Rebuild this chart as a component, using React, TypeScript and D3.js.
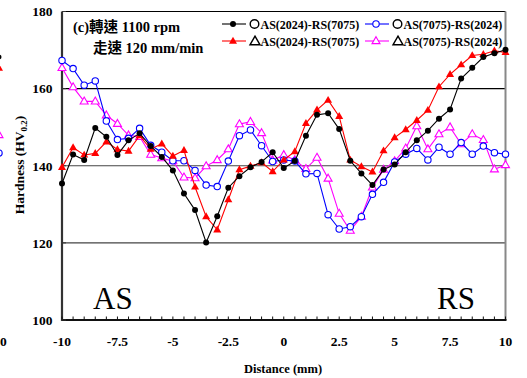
import React from "react";
import * as d3 from "d3";

const distances: number[] = d3.range(-10, 10.001, 0.5).map((v) => +v.toFixed(1));

const as2024Circle: number[] = [
  135.4, 142.9, 141.5, 149.8, 147.5, 142.8, 146.6, 148.4, 145.1, 142.3, 138.8,
  132.8, 128.5, 120.1, 126.9, 134.3, 137.3, 139.6, 141.0, 143.5, 139.4,
  141.2, 147.8, 153.2, 153.6, 149.5, 141.3, 138.0, 135.0, 139.0, 140.3,
  143.5, 146.6, 149.1, 152.2, 154.6, 162.6, 165.4, 168.2, 169.2, 170.1,
];
const as2024Triangle: number[] = [
  139.6, 144.7, 142.8, 143.2, 146.2, 144.2, 143.8, 147.8, 144.3, 145.7, 142.5,
  144.0, 134.5, 126.8, 123.4, 131.2, 139.0, 139.9, 140.8, 138.5, 141.5,
  143.7, 151.0, 154.5, 157.0, 152.8, 141.5, 139.8, 138.4, 143.9, 147.3,
  149.4, 151.8, 154.4, 160.5, 163.7, 166.2, 168.6, 168.9, 169.8, 169.4,
];
const as7075Circle: number[] = [
  167.3, 165.2, 160.9, 162.0, 151.6, 146.8, 147.1, 149.7, 145.3, 143.5, 141.3,
  141.3, 138.8, 135.0, 134.6, 141.2, 147.8, 149.3, 145.2, 141.1, 141.5,
  141.2, 137.9, 138.0, 127.3, 123.6, 124.2, 126.8, 132.6, 135.7, 141.0,
  143.0, 144.5, 141.5, 144.8, 143.0, 146.0, 143.0, 145.1, 143.4, 143.0,
];
const as7075Triangle: number[] = [
  165.4, 160.4, 156.7, 156.7, 153.1, 150.9, 147.9, 147.5, 142.9, 142.0, 141.2,
  137.0, 136.8, 139.9, 141.5, 144.3, 150.8, 151.4, 148.5, 141.4, 142.8,
  141.5, 139.2, 142.1, 136.7, 127.6, 123.2, 126.8, 134.4, 139.0, 141.2,
  144.5, 150.3, 144.3, 148.2, 150.0, 145.6, 148.2, 146.7, 139.1, 140.2,
];

const xTicks: number[] = [-10, -7.5, -5, -2.5, 0, 2.5, 5, 7.5, 10];
const yTicks: number[] = [100, 120, 140, 160, 180];
const gridValues: number[] = [120, 140, 160];
const legendLabels: string[] = ["AS(2024)-RS(7075)", "AS(7075)-RS(2024)", "AS(2024)-RS(7075)", "AS(7075)-RS(2024)"];

type Series = { values: number[]; color: string; marker: "dot" | "tri" | "ocircle" | "otri" };

const series: Series[] = [
  { values: as7075Triangle, color: "#ff00ff", marker: "otri" },
  { values: as7075Circle, color: "#0000ff", marker: "ocircle" },
  { values: as2024Triangle, color: "#ff0000", marker: "tri" },
  { values: as2024Circle, color: "#000000", marker: "dot" },
];

const SERIF = "'Liberation Serif', 'Times New Roman', 'Noto Sans CJK TC', serif";

function triPath(cx: number, cy: number, s: number) {
  const h = s * 0.87;
  return `M${cx},${cy - h * 0.62}L${cx + s / 2},${cy + h * 0.38}L${cx - s / 2},${cy + h * 0.38}Z`;
}

function Marker({ kind, x, y, color }: { kind: Series["marker"]; x: number; y: number; color: string }) {
  if (kind === "dot") return <circle cx={x} cy={y} r={3} fill={color} />;
  if (kind === "ocircle") return <circle cx={x} cy={y} r={3.2} fill="#fff" stroke={color} strokeWidth={1.1} />;
  if (kind === "tri") return <path d={triPath(x, y, 8)} fill={color} />;
  return <path d={triPath(x, y, 8)} fill="#fff" stroke={color} strokeWidth={1.1} />;
}

export default function App() {
  const W = 527;
  const H = 378;
  const x = d3.scaleLinear().domain([-10, 10]).range([62, 505.5]);
  const y = d3.scaleLinear().domain([100, 180]).range([320, 11.5]);
  const line = d3
    .line<number>()
    .x((_, i) => x(distances[i]))
    .y((d) => y(d));
  const minorTicks = d3.range(-10, 10.001, 0.5);

  const legendRows = [
    { lx: 222, ly: 24, color: "#000", marker: "dot" as const, sym: "circle", label: legendLabels[0] },
    { lx: 365, ly: 24, color: "#0000ff", marker: "ocircle" as const, sym: "circle", label: legendLabels[1] },
    { lx: 222, ly: 41, color: "#ff0000", marker: "tri" as const, sym: "tri", label: legendLabels[2] },
    { lx: 365, ly: 41, color: "#ff00ff", marker: "otri" as const, sym: "tri", label: legendLabels[3] },
  ];

  return (
    <svg
      width={W}
      height={H}
      style={{ position: "absolute", left: 0, top: 0, background: "#fff" }}
      fontFamily={SERIF}
    >
      <rect x={0} y={0} width={W} height={H} fill="#fff" />
      {/* fragments of neighbouring chart */}
      <circle cx={-1} cy={57} r={2.5} fill="#000" />
      <path d={triPath(-1, 68, 8)} fill="#ff0000" />
      <path d={triPath(-1, 135, 8)} fill="#fff" stroke="#ff00ff" strokeWidth={1.1} />
      <circle cx={-1} cy={153} r={3.2} fill="#fff" stroke="#0000ff" strokeWidth={1.1} />
      <text x={0} y={346} fontSize={13.5} fontWeight="bold">0</text>

      {/* gridlines */}
      {gridValues.map((g) => (
        <line key={g} x1={x(-10)} x2={x(10)} y1={y(g)} y2={y(g)} stroke={g === 160 ? "#000" : "#444"} strokeWidth={1.2} />
      ))}
      {/* frame */}
      <line x1={x(-10)} x2={x(10)} y1={y(180)} y2={y(180)} stroke="#000" strokeWidth={1.2} />
      <line x1={x(10)} x2={x(10)} y1={y(180)} y2={y(100)} stroke="#888" strokeWidth={2} />
      <line x1={x(-10)} x2={x(-10)} y1={y(180)} y2={y(100) + 1} stroke="#333" strokeWidth={2.2} />
      <line x1={x(-10)} x2={x(10) + 1} y1={y(100)} y2={y(100)} stroke="#111" strokeWidth={2.2} />
      {minorTicks.map((t) => (
        <line key={t} x1={x(t)} x2={x(t)} y1={y(100)} y2={y(100) - 3.5} stroke="#111" strokeWidth={1} />
      ))}
      {yTicks.map((t) => (
        <line key={t} x1={x(-10)} x2={x(-10) + 4} y1={y(t)} y2={y(t)} stroke="#333" strokeWidth={1} />
      ))}

      {/* tick labels */}
      {yTicks.map((t) => (
        <text key={t} x={52.5} y={y(t) + 4.8} textAnchor="end" fontSize={13.5} fontWeight="bold">
          {t}
        </text>
      ))}
      {xTicks.map((t) => (
        <text key={t} x={x(t)} y={346} textAnchor="middle" fontSize={13.5} fontWeight="bold">
          {t}
        </text>
      ))}

      {/* axis titles */}
      <text x={283} y={373} textAnchor="middle" fontSize={12.5} fontWeight="bold">
        Distance (mm)
      </text>
      <text transform="translate(24,165) rotate(-90)" textAnchor="middle" fontSize={13.5} fontWeight="bold">
        Hardness (HV<tspan fontSize={9} dy={3}>0.2</tspan>
        <tspan dy={-3}>)</tspan>
      </text>

      {/* AS / RS */}
      <text x={93} y={309} fontSize={31}>AS</text>
      <text x={437} y={309} fontSize={31}>RS</text>

      {/* condition text */}
      <text x={73} y={32} fontSize={14.5} fontWeight="bold">(c)轉速 1100 rpm</text>
      <text x={93} y={53} fontSize={14.5} fontWeight="bold">走速 120 mm/min</text>

      {/* series */}
      {series.map((s, si) => (
        <g key={si}>
          <path d={line(s.values) || ""} fill="none" stroke={s.color} strokeWidth={1.1} />
          {s.values.map((v, i) => (
            <Marker key={i} kind={s.marker} x={x(distances[i])} y={y(v)} color={s.color} />
          ))}
        </g>
      ))}

      {/* legend */}
      {legendRows.map((r, i) => (
        <g key={i}>
          <line x1={r.lx} x2={r.lx + 24} y1={r.ly} y2={r.ly} stroke={r.color} strokeWidth={1.1} />
          <Marker kind={r.marker} x={r.lx + 11} y={r.ly} color={r.color} />
          {r.sym === "circle" ? (
            <circle cx={r.lx + 32.5} cy={r.ly} r={4.3} fill="none" stroke="#000" strokeWidth={1.4} />
          ) : (
            <path d={triPath(r.lx + 33, r.ly + 0.5, 10)} fill="none" stroke="#000" strokeWidth={1.4} />
          )}
          <text x={r.lx + 38.5} y={r.ly + 4.5} fontSize={12} fontWeight="bold">
            {r.label}
          </text>
        </g>
      ))}
    </svg>
  );
}
